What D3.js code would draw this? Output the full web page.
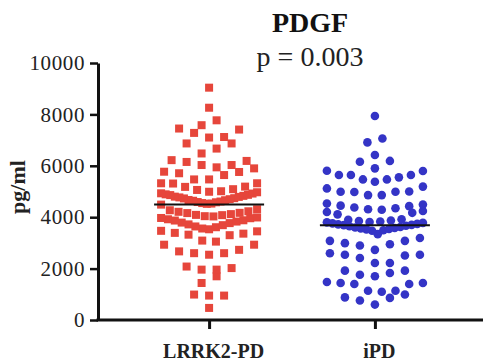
<!DOCTYPE html>
<html>
<head>
<meta charset="utf-8">
<script src="https://cdn.jsdelivr.net/npm/d3@7"></script>
<style>
  body { margin: 0; background: #fff; }
  svg { display: block; }
</style>
</head>
<body>
<div id="chart"></div>
<script>
// values (pg/ml)
const groups = ["LRRK2-PD", "iPD"];
const lrrk2Values = [
  9040, 8260, 7770, 7580, 7450, 7410, 7280, 7120, 7100, 6870, 6870, 6670, 6480,
  6220, 6190, 6150, 6030, 6030, 5940, 5900, 5770, 5760, 5710, 5640, 5470, 5470,
  5320, 5320, 5310, 5190, 5180,
  5090, 5060, 5010, 4990, 4970, 4930, 4920, 4890, 4870, 4860, 4830, 4800, 4790,
  4770, 4740, 4730, 4700, 4670, 4660, 4640, 4610, 4590, 4580, 4550, 4530, 4520, 4490,
  4310, 4270, 4230, 4210, 4170, 4160, 4120, 4090, 4080, 4040, 4030, 3990, 3970,
  3960, 3920, 3880, 3870, 3830, 3790, 3770, 3720, 3690, 3640, 3610, 3560, 3530,
  3470, 3450, 3390, 3360, 3320, 3300,
  3090, 3050, 2930, 2930, 2730, 2670, 2600, 2600, 2540, 2080, 2020, 1960, 1960,
  1700, 1440, 990, 950, 950, 470
];
const ipdValues = [
  7940, 7060, 6910, 6420, 6190, 6160, 5900, 5810, 5800, 5640, 5640, 5640, 5550,
  5470, 5470, 5380, 5190, 5120, 5000, 4990, 4990, 4980, 4860, 4860,
  4530, 4490, 4450, 4430, 4380, 4350, 4310, 4290, 4240, 4200, 4170, 4110,
  3920, 3900, 3870, 3850, 3830, 3810, 3800, 3780, 3760, 3740, 3720, 3700, 3690,
  3670, 3650, 3620, 3600, 3580, 3560, 3540, 3520, 3490, 3470,
  3340, 3190, 3080, 3080, 2990, 2950, 2900, 2730, 2600, 2540, 2540, 2510, 2410,
  2220, 2220, 1920, 1920, 1830, 1760, 1700, 1480, 1440, 1440, 1400, 1400, 1140,
  1140, 1100, 990, 880, 860, 760, 600
];
const yTicks = [0, 2000, 4000, 6000, 8000, 10000];
const title = "PDGF";
const pLabel = "p = 0.003";
const yLabel = "pg/ml";

const width = 483, height = 363;
const margin = {left: 98, bottom: 320, top: 63};
const red = "#e6463b", blue = "#3434c6";

const svg = d3.select("#chart").append("svg")
  .attr("width", width)
  .attr("height", height)
  .attr("viewBox", [0, 0, width, height])
  .style("font-family", "'Liberation Serif', 'Times New Roman', serif");

const y = d3.scaleLinear([0, 10000], [margin.bottom, margin.top]);
const x = d3.scalePoint(groups, [margin.left, 486]).padding(0.67);

// prism-like scatter: group close values in rows, spread each row
// sideways with the lowest values in the middle (gives the V shapes)
function swarm(values, cx, rowH, maxSpan, maxStep) {
  const sorted = values.slice().sort(d3.ascending);
  const rows = [];
  let cur = [];
  for (const v of sorted) {
    if (cur.length && y(cur[0]) - y(v) >= rowH) { rows.push(cur); cur = []; }
    cur.push(v);
  }
  if (cur.length) rows.push(cur);

  const nodes = [];
  rows.forEach((row, r) => {
    const n = row.length;
    const step = n > 1 ? Math.min(maxStep, maxSpan / (n - 1)) : 0;
    const flip = r % 2 ? -1 : 1;
    const slots = d3.range(n).map(i => (i - (n - 1) / 2) * step)
      .sort((a, b) => Math.abs(a) - Math.abs(b) || flip * (a - b));
    row.forEach((v, i) => nodes.push({v, x: cx + slots[i], y: y(v)}));
  });
  return nodes;
}

const redNodes = swarm(lrrk2Values, x(groups[0]), 12, 96, 15);
const blueNodes = swarm(ipdValues, x(groups[1]), 12, 96, 15);

svg.append("g")
  .attr("fill", red)
  .selectAll("rect")
  .data(redNodes)
  .join("rect")
  .attr("x", d => d.x - 4)
  .attr("y", d => d.y - 4)
  .attr("width", 8)
  .attr("height", 8);

svg.append("g")
  .attr("fill", blue)
  .selectAll("circle")
  .data(blueNodes)
  .join("circle")
  .attr("cx", d => d.x)
  .attr("cy", d => d.y)
  .attr("r", 4.3);

// mean lines
const means = [d3.mean(lrrk2Values), d3.mean(ipdValues)];
svg.append("g")
  .attr("stroke", "#111")
  .attr("stroke-width", 2)
  .selectAll("line")
  .data(groups)
  .join("line")
  .attr("x1", d => x(d) - 55)
  .attr("x2", d => x(d) + 55)
  .attr("y1", (d, i) => y(means[i]))
  .attr("y2", (d, i) => y(means[i]));

// axes
svg.append("g")
  .attr("transform", `translate(${margin.left},0)`)
  .call(d3.axisLeft(y).tickValues(yTicks).tickSize(8).tickSizeOuter(0).tickPadding(5).tickFormat(d3.format("d")))
  .call(g => g.select(".domain").attr("stroke", "#111").attr("stroke-width", 3))
  .call(g => g.selectAll(".tick line").attr("stroke", "#111").attr("stroke-width", 2.5))
  .call(g => g.selectAll(".tick text")
    .attr("fill", "#222")
    .attr("font-size", 21)
    .attr("letter-spacing", 0.6)
    .attr("font-family", "'Liberation Serif', serif"));

svg.append("g")
  .attr("transform", `translate(0,${margin.bottom})`)
  .call(d3.axisBottom(x).tickSize(9).tickSizeOuter(0).tickPadding(0))
  .call(g => g.select(".domain").attr("stroke", "#111").attr("stroke-width", 3).attr("d", `M${margin.left - 1.5},0H${width}`))
  .call(g => g.selectAll(".tick line").attr("stroke", "#111").attr("stroke-width", 3))
  .call(g => g.selectAll(".tick text")
    .attr("y", 38)
    .attr("dy", 0)
    .attr("dx", 4)
    .attr("fill", "#222")
    .attr("font-size", 20)
    .attr("font-weight", "bold")
    .attr("font-family", "'Liberation Serif', serif"));

svg.append("text")
  .attr("transform", `translate(25,187) rotate(-90)`)
  .attr("text-anchor", "middle")
  .attr("font-size", 22)
  .attr("font-weight", "bold")
  .attr("fill", "#222")
  .text(yLabel);

svg.append("text")
  .attr("x", 310)
  .attr("y", 32)
  .attr("text-anchor", "middle")
  .attr("font-size", 28)
  .attr("font-weight", "bold")
  .attr("fill", "#111")
  .text(title);

svg.append("text")
  .attr("x", 310)
  .attr("y", 66)
  .attr("text-anchor", "middle")
  .attr("font-size", 28)
  .attr("fill", "#222")
  .text(pLabel);
</script>
</body>
</html>
